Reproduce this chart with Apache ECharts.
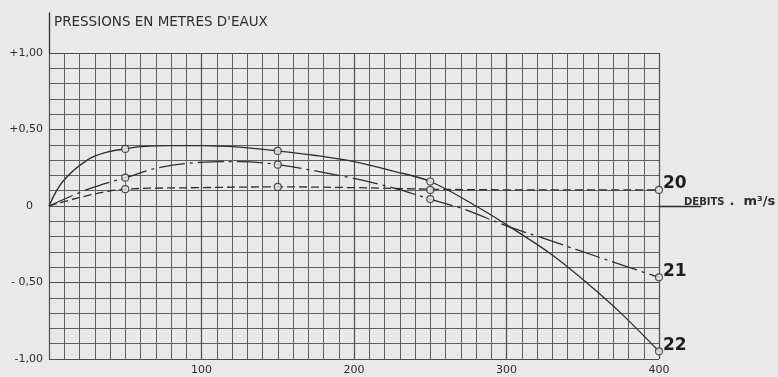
<!DOCTYPE html>
<html>
<head>
<meta charset="utf-8">
<script src="https://cdn.jsdelivr.net/npm/echarts@6/dist/echarts.min.js"></script>
<style>
  html, body { margin: 0; padding: 0; background: #e9e9e9; }
  #chart { width: 778px; height: 377px; }
</style>
</head>
<body>
<div id="chart"></div>
<script>
// debits (m3/s) and pressures (m)
const curve20X = [0, 50, 100, 150, 200, 250, 325, 400];
const curve20Y = [0, 0.11, 0.12, 0.125, 0.12, 0.11, 0.105, 0.105];

const curve21X = [0, 27, 50, 73, 99, 125, 150, 195, 225, 250, 272, 300, 324, 366, 400];
const curve21Y = [0, 0.115, 0.185, 0.253, 0.285, 0.29, 0.27, 0.19, 0.12, 0.045, -0.02, -0.13, -0.21, -0.353, -0.466];

const curve22X = [0, 9, 25, 38, 50, 60, 80, 100, 125, 150, 175, 200, 225, 250, 280, 302, 330, 353, 375, 400];
const curve22Y = [0, 0.16, 0.3, 0.352, 0.373, 0.388, 0.395, 0.395, 0.385, 0.36, 0.33, 0.29, 0.23, 0.16, 0.0, -0.135, -0.32, -0.505, -0.7, -0.95];

// measured points (circles)
const measureX = [50, 150, 250, 400];
const measure20 = [0.11, 0.125, 0.105, 0.105];
const measure21 = [0.185, 0.27, 0.045, -0.466];
const measure22 = [0.373, 0.36, 0.16, -0.95];

const xTickValues = [0, 100, 200, 300, 400];
const xTickLabels = ["", "100", "200", "300", "400"];
const yTickValues = [-1, -0.5, 0, 0.5, 1];
const yTickLabels = ["-1,00", "- 0,50", "0", "+0,50", "+1,00"];

const ink = "#2e2e2e";
const gridInk = "#606060";
const majorInk = "#4e4e4e";
const paper = "#e9e9e9";
const font = "DejaVu Sans";

const zip = (xs, ys) => xs.map((x, i) => [x, ys[i]]);
const tickText = (values, labels, v) => {
  const i = values.findIndex((t) => Math.abs(t - v) < 1e-6);
  return i < 0 ? "" : labels[i];
};

const chart = echarts.init(document.getElementById("chart"));

const lineSeries = (name, xs, ys, type) => ({
  type: "line",
  name,
  data: zip(xs, ys),
  smooth: 0.35,
  showSymbol: false,
  silent: true,
  lineStyle: { color: ink, width: 1.3, type },
  endLabel: {
    show: true,
    formatter: "{a}",
    distance: 4,
    offset: [0, -6],
    color: "#1e1e1e",
    fontFamily: font,
    fontSize: 17,
    fontWeight: "bold",
  },
  z: 3,
});

const circleSeries = (ys) => ({
  type: "scatter",
  data: zip(measureX, ys),
  symbol: "circle",
  symbolSize: 7,
  silent: true,
  itemStyle: { color: paper, borderColor: ink, borderWidth: 1.2 },
  z: 4,
});

chart.setOption({
  animation: false,
  backgroundColor: paper,
  title: [
    {
      text: "PRESSIONS EN METRES D'EAUX",
      left: 54,
      top: 15,
      padding: 0,
      textStyle: { color: ink, fontFamily: font, fontSize: 13.5, fontWeight: "normal" },
    },
    {
      text: "{a|DEBITS} {b|.  m³/s}",
      left: 684,
      top: 193,
      padding: 0,
      textStyle: {
        rich: {
          a: { color: ink, fontFamily: font, fontSize: 10 },
          b: { color: ink, fontFamily: font, fontSize: 13 },
        },
      },
    },
  ],
  grid: [
    { left: 49, right: 119, top: 53, bottom: 18 },
    { left: 49, width: 1, top: 13, height: 40 },
    { left: 659, width: 42, top: 53, bottom: 18 },
  ],
  xAxis: [
    {
      type: "value",
      min: 0,
      max: 400,
      interval: 100,
      axisLine: { show: false, onZero: false },
      axisTick: { show: false },
      axisLabel: {
        margin: 6,
        color: ink,
        fontFamily: font,
        fontSize: 11,
        formatter: (v) => tickText(xTickValues, xTickLabels, v),
      },
      splitLine: { show: true, lineStyle: { color: majorInk, width: 1.2 } },
      minorTick: { show: false, splitNumber: 10 },
      minorSplitLine: { show: true, lineStyle: { color: gridInk, width: 1 } },
    },
    { gridIndex: 1, type: "value", show: false },
    {
      gridIndex: 2,
      type: "value",
      min: 0,
      max: 1,
      axisLine: { show: true, onZero: true, lineStyle: { color: ink, width: 1.3 } },
      axisTick: { show: false },
      axisLabel: { show: false },
      splitLine: { show: false },
    },
  ],
  yAxis: [
    {
      type: "value",
      min: -1,
      max: 1,
      interval: 0.5,
      axisLine: { show: false },
      axisTick: { show: false },
      axisLabel: {
        margin: 6,
        color: ink,
        fontFamily: font,
        fontSize: 11,
        formatter: (v) => {
          const t = tickText(yTickValues, yTickLabels, v);
          return t === "0" ? "{z|0}" : t;
        },
        rich: { z: { color: ink, fontFamily: font, fontSize: 11, padding: [0, 10, 0, 0] } },
      },
      splitLine: { show: true, lineStyle: { color: majorInk, width: 1.2 } },
      minorTick: { show: false, splitNumber: 5 },
      minorSplitLine: { show: true, lineStyle: { color: gridInk, width: 1 } },
    },
    {
      gridIndex: 1,
      type: "value",
      min: 0,
      max: 1,
      axisLine: { show: true, lineStyle: { color: ink, width: 1.3 } },
      axisTick: { show: false },
      axisLabel: { show: false },
      splitLine: { show: false },
    },
    { gridIndex: 2, type: "value", min: -1, max: 1, show: false },
  ],
  series: [
    lineSeries("20", curve20X, curve20Y, [8, 4]),
    lineSeries("21", curve21X, curve21Y, [26, 5, 3, 5]),
    lineSeries("22", curve22X, curve22Y, "solid"),
    circleSeries(measure20),
    circleSeries(measure21),
    circleSeries(measure22),
  ],
});
</script>
</body>
</html>
